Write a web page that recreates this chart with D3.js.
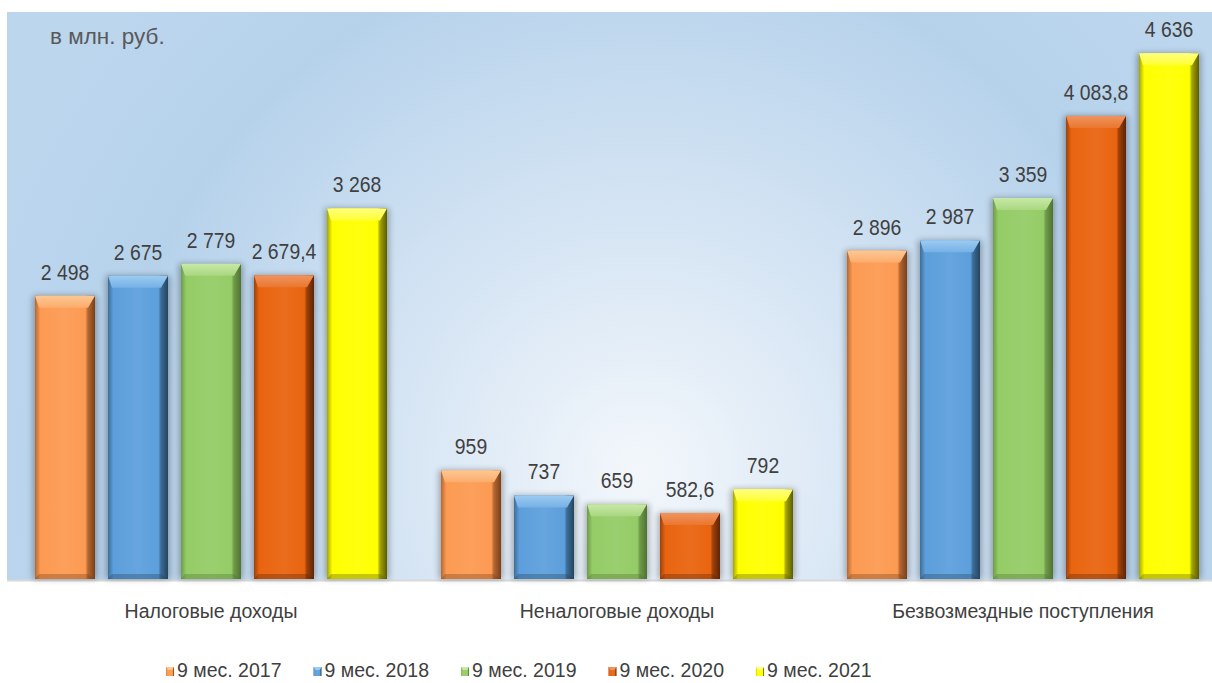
<!DOCTYPE html>
<html>
<head>
<meta charset="utf-8">
<script src="https://cdn.jsdelivr.net/npm/d3@7"></script>
<style>
  body { margin: 0; background: #ffffff; }
  svg { display: block; }
</style>
</head>
<body>
<div id="graph"></div>
<script>
//data
var categories = ["Налоговые доходы", "Неналоговые доходы", "Безвозмездные поступления"];
var series = ["9 мес. 2017", "9 мес. 2018", "9 мес. 2019", "9 мес. 2020", "9 мес. 2021"];
var values2017 = [2498, 959, 2896];
var values2018 = [2675, 737, 2987];
var values2019 = [2779, 659, 3359];
var values2020 = [2679.4, 582.6, 4083.8];
var values2021 = [3268, 792, 4636];
var unitLabel = "в млн. руб.";

//colours per series: base, light (top bevel), dark (edges)
var baseColors = ["#fc9a52", "#5c9fdc", "#94cc66", "#e9640f", "#ffff00"];
var lightColors = ["#fcc894", "#9ccbf2", "#c8e8a6", "#ef9460", "#ffff80"];
var darkColors = ["#7a3f17", "#24445f", "#4f7232", "#5e2406", "#5c5c00"];

//measurements
var width = 1212;
var height = 683;
var plot = { left: 8, top: 12, bottom: 579, right: 1226 };

var allValues = [values2017, values2018, values2019, values2020, values2021];

var rows = [];
categories.forEach(function (c, i) {
    series.forEach(function (s, j) {
        rows.push({ category: c, series: s, index: j, value: allValues[j][i] });
    });
});

var ru = d3.formatLocale({ decimal: ",", thousands: " ", grouping: [3], currency: ["", ""] });
function fmt(v) {
    return Number.isInteger(v) ? ru.format(",d")(v) : ru.format(",.1f")(v);
}

var svg = d3.select("#graph").append("svg")
    .attr("width", width)
    .attr("height", height);

var defs = svg.append("defs");

// background gradient of the plot area
var bg = defs.append("radialGradient")
    .attr("id", "bgGrad")
    .attr("gradientUnits", "userSpaceOnUse")
    .attr("cx", 640).attr("cy", 470).attr("r", 700);
bg.append("stop").attr("offset", "0%").attr("stop-color", "#f3f7fb");
bg.append("stop").attr("offset", "35%").attr("stop-color", "#d6e5f4");
bg.append("stop").attr("offset", "75%").attr("stop-color", "#b6d2eb");
bg.append("stop").attr("offset", "100%").attr("stop-color", "#bcd6ee");

// soft shadow for bars
var shadow = defs.append("filter")
    .attr("id", "shadow")
    .attr("x", "-30%").attr("y", "-10%")
    .attr("width", "160%").attr("height", "120%");
shadow.append("feGaussianBlur").attr("in", "SourceAlpha").attr("stdDeviation", 3);

// horizontal shading for each series
series.forEach(function (s, j) {
    var g = defs.append("linearGradient")
        .attr("id", "side" + j)
        .attr("x1", "0%").attr("x2", "100%").attr("y1", "0%").attr("y2", "0%");
    g.append("stop").attr("offset", "0%").attr("stop-color", d3.interpolateRgb(baseColors[j], darkColors[j])(0.55));
    g.append("stop").attr("offset", "9%").attr("stop-color", baseColors[j]);
    g.append("stop").attr("offset", "50%").attr("stop-color", d3.interpolateRgb(baseColors[j], "#ffffff")(0.06));
    g.append("stop").attr("offset", "84%").attr("stop-color", baseColors[j]);
    g.append("stop").attr("offset", "88%").attr("stop-color", d3.interpolateRgb(baseColors[j], darkColors[j])(0.55));
    g.append("stop").attr("offset", "100%").attr("stop-color", darkColors[j]);

    var t = defs.append("linearGradient")
        .attr("id", "top" + j)
        .attr("x1", "0%").attr("x2", "0%").attr("y1", "0%").attr("y2", "100%");
    t.append("stop").attr("offset", "0%").attr("stop-color", lightColors[j]);
    t.append("stop").attr("offset", "100%").attr("stop-color", d3.interpolateRgb(lightColors[j], baseColors[j])(0.6));
});

// plot area background
svg.append("rect")
    .attr("x", plot.left - 1)
    .attr("y", plot.top)
    .attr("width", width - plot.left + 1)
    .attr("height", plot.bottom - plot.top + 1)
    .attr("fill", "url(#bgGrad)");

// scales
var x0 = d3.scaleBand()
    .domain(categories)
    .range([plot.left, plot.right])
    .padding(0);

var x1 = d3.scaleBand()
    .domain(series)
    .range([27, x0.bandwidth() - 27])
    .paddingInner(0.178)
    .paddingOuter(0);

var y = d3.scaleLinear()
    .domain([0, 5000])
    .range([plot.bottom, plot.top]);

// baseline
svg.append("line")
    .attr("x1", plot.left - 1).attr("x2", width)
    .attr("y1", plot.bottom + 1.5).attr("y2", plot.bottom + 1.5)
    .attr("stroke", "#d9d9d9")
    .attr("stroke-width", 2);

var bars = svg.append("g").selectAll(".bar")
    .data(rows)
    .enter().append("g")
    .attr("class", "bar")
    .attr("transform", function (d) {
        return "translate(" + (x0(d.category) + x1(d.series)) + "," + y(d.value) + ")";
    });

var bw = x1.bandwidth();
var tb = 12, sb = 7, lb = 4, bb = 5;

bars.append("rect")
    .attr("x", -2).attr("y", 0)
    .attr("width", bw + 4)
    .attr("height", function (d) { return y(0) - y(d.value); })
    .attr("fill", "#000")
    .attr("opacity", 0.3)
    .attr("filter", "url(#shadow)");

bars.append("rect")
    .attr("width", bw)
    .attr("height", function (d) { return y(0) - y(d.value); })
    .attr("fill", function (d) { return "url(#side" + d.index + ")"; });

// top bevel
bars.append("path")
    .attr("d", "M0,0 L" + bw + ",0 L" + (bw - sb) + "," + tb + " L" + lb + "," + tb + " Z")
    .attr("fill", function (d) { return "url(#top" + d.index + ")"; });

// bottom bevel
bars.append("path")
    .attr("d", function (d) {
        var h = y(0) - y(d.value);
        return "M0," + h + " L" + bw + "," + h + " L" + (bw - sb) + "," + (h - bb) + " L" + lb + "," + (h - bb) + " Z";
    })
    .attr("fill", function (d) { return darkColors[d.index]; })
    .attr("opacity", 0.35);

// value labels
svg.append("g").selectAll(".text")
    .data(rows)
    .enter().append("text")
    .attr("class", "text")
    .attr("text-anchor", "middle")
    .attr("font-family", "'Liberation Sans', Arial, sans-serif")
    .style("font-size", "22px")
    .attr("fill", "#404040")
    .attr("transform", function (d) {
        return "translate(" + (x0(d.category) + x1(d.series) + bw / 2) + "," + (y(d.value) - 16) + ") scale(0.88,1)";
    })
    .text(function (d) { return fmt(d.value); });

// category labels
svg.append("g").selectAll(".cat")
    .data(categories)
    .enter().append("text")
    .attr("class", "cat")
    .attr("text-anchor", "middle")
    .attr("font-family", "'Liberation Sans', Arial, sans-serif")
    .style("font-size", "19.5px")
    .attr("fill", "#404040")
    .attr("x", function (d) { return x0(d) + x0.bandwidth() / 2; })
    .attr("y", 618)
    .text(function (d) { return d; });

// unit label
svg.append("text")
    .attr("x", 50)
    .attr("y", 44)
    .attr("font-family", "'Liberation Sans', Arial, sans-serif")
    .style("font-size", "22.5px")
    .attr("fill", "#595959")
    .text(unitLabel);

// legend
var legendX = d3.scalePoint().domain(series).range([166, 756]);
var legend = svg.append("g").selectAll(".legend")
    .data(series)
    .enter().append("g")
    .attr("class", "legend")
    .attr("transform", function (d) { return "translate(" + legendX(d) + ",0)"; });

legend.append("rect")
    .attr("x", 0).attr("y", 667)
    .attr("width", 8).attr("height", 9)
    .attr("fill", function (d, i) { return "url(#side" + i + ")"; });

legend.append("path")
    .attr("d", "M0,667 L8,667 L6,670 L2,670 Z")
    .attr("fill", function (d, i) { return lightColors[i]; });

legend.append("text")
    .attr("x", 11)
    .attr("y", 677)
    .attr("font-family", "'Liberation Sans', Arial, sans-serif")
    .style("font-size", "19.5px")
    .attr("fill", "#404040")
    .text(function (d) { return d; });
</script>
</body>
</html>
